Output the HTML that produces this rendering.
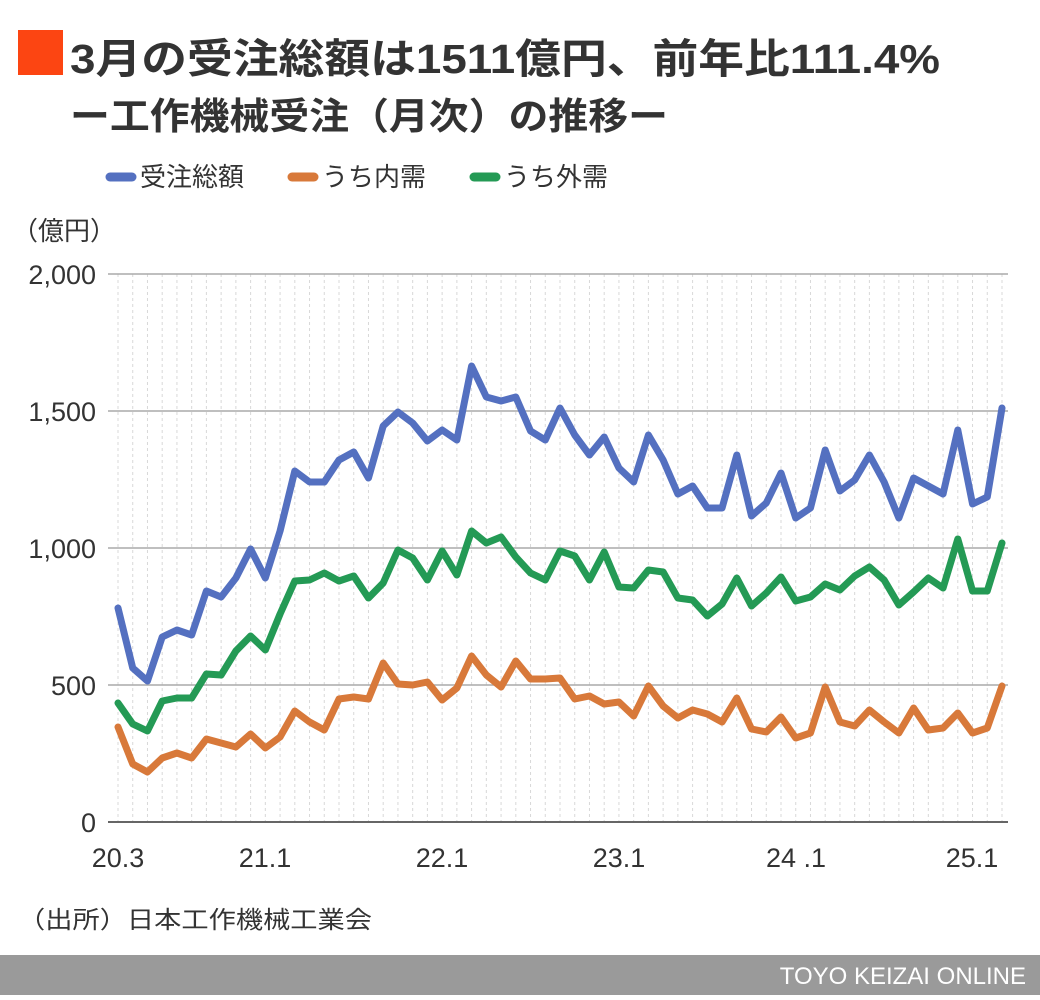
<!DOCTYPE html>
<html><head><meta charset="utf-8"><style>
body{margin:0;background:#fff;width:1040px;height:995px;overflow:hidden}
text{font-family:"Liberation Sans","Noto Sans CJK JP",sans-serif}
</style></head><body>
<svg width="1040" height="995" viewBox="0 0 1040 995">
<rect x="18" y="30" width="45" height="45" fill="#fc4512"/>
<text x="70" y="73" font-size="41" font-weight="bold" fill="#333" textLength="870" lengthAdjust="spacingAndGlyphs">3月の受注総額は1511億円、前年比111.4%</text>
<text x="70" y="129" font-size="37" font-weight="bold" fill="#333" textLength="598" lengthAdjust="spacingAndGlyphs">ー工作機械受注（月次）の推移ー</text>
<g font-size="26" fill="#333">
<line x1="110" y1="177" x2="132" y2="177" stroke="#5470c0" stroke-width="9" stroke-linecap="round"/>
<text x="140" y="186">受注総額</text>
<line x1="292" y1="177" x2="314" y2="177" stroke="#d8793a" stroke-width="9" stroke-linecap="round"/>
<text x="322" y="186">うち内需</text>
<line x1="474" y1="177" x2="496" y2="177" stroke="#249a55" stroke-width="9" stroke-linecap="round"/>
<text x="504" y="186">うち外需</text>
<text x="12" y="240">（億円）</text>
</g>
<g transform="translate(118,0) scale(14.7333,1)" stroke="#d8d8d8" stroke-dasharray="3,3">
<path vector-effect="non-scaling-stroke" stroke-width="1" d="M0 274V822M1 274V822M2 274V822M3 274V822M4 274V822M5 274V822M6 274V822M7 274V822M8 274V822M9 274V822M10 274V822M11 274V822M12 274V822M13 274V822M14 274V822M15 274V822M16 274V822M17 274V822M18 274V822M19 274V822M20 274V822M21 274V822M22 274V822M23 274V822M24 274V822M25 274V822M26 274V822M27 274V822M28 274V822M29 274V822M30 274V822M31 274V822M32 274V822M33 274V822M34 274V822M35 274V822M36 274V822M37 274V822M38 274V822M39 274V822M40 274V822M41 274V822M42 274V822M43 274V822M44 274V822M45 274V822M46 274V822M47 274V822M48 274V822M49 274V822M50 274V822M51 274V822M52 274V822M53 274V822M54 274V822M55 274V822M56 274V822M57 274V822M58 274V822M59 274V822M60 274V822"/>
</g>
<g stroke="#aaa" stroke-width="1.5">
<line x1="108" y1="274" x2="1008" y2="274"/><line x1="108" y1="411" x2="1008" y2="411"/>
<line x1="108" y1="548" x2="1008" y2="548"/><line x1="108" y1="685" x2="1008" y2="685"/>
</g>
<line x1="108" y1="822" x2="1008" y2="822" stroke="#666" stroke-width="2"/>
<g font-size="27" fill="#333" text-anchor="end">
<text x="96" y="284">2,000</text><text x="96" y="421">1,500</text><text x="96" y="558">1,000</text>
<text x="96" y="695">500</text><text x="96" y="832">0</text>
</g>
<g font-size="27" fill="#333" text-anchor="middle">
<text x="118" y="867">20.3</text><text x="265" y="867">21.1</text><text x="442" y="867">22.1</text>
<text x="619" y="867">23.1</text><text x="796" y="867">24 .1</text><text x="972" y="867">25.1</text>
</g>
<g transform="translate(118,0) scale(14.7333,1)" fill="none" stroke-width="7" stroke-linejoin="round" stroke-linecap="round">
<polyline vector-effect="non-scaling-stroke" stroke="#d8793a" points="0,727 1,764 2,772 3,758 4,753 5,758 6,739 7,743 8,747 9,734 10,748 11,737 12,711 13,722 14,730 15,699 16,697 17,699 18,663 19,684 20,685 21,682 22,700 23,688 24,656 25,675 26,687 27,661 28,679 29,679 30,678 31,699 32,696 33,704 34,702 35,716 36,686 37,706 38,718 39,710 40,714 41,722 42,698 43,729 44,732 45,717 46,738 47,733 48,687 49,722 50,726 51,710 52,722 53,733 54,708 55,730 56,728 57,713 58,733 59,728 60,686"/>
<polyline vector-effect="non-scaling-stroke" stroke="#249a55" points="0,703 1,724 2,731 3,701 4,698 5,698 6,674 7,675 8,651 9,636 10,650 11,614 12,581 13,580 14,573 15,581 16,576 17,598 18,583 19,550 20,558 21,580 22,551 23,575 24,531 25,543 26,537 27,557 28,573 29,580 30,551 31,556 32,580 33,552 34,587 35,588 36,570 37,572 38,598 39,600 40,616 41,604 42,578 43,606 44,593 45,577 46,601 47,597 48,584 49,590 50,576 51,567 52,580 53,605 54,592 55,578 56,588 57,539 58,591 59,591 60,543"/>
<polyline vector-effect="non-scaling-stroke" stroke="#5470c0" points="0,608 1,668 2,681 3,637 4,630 5,635 6,591 7,597 8,578 9,549 10,578 11,531 12,471 13,482 14,482 15,460 16,452 17,478 18,426 19,412 20,423 21,441 22,430 23,440 24,366 25,397 26,401 27,397 28,431 29,440 30,408 31,435 32,455 33,437 34,468 35,482 36,435 37,460 38,494 39,486 40,508 41,508 42,455 43,516 44,503 45,473 46,518 47,508 48,450 49,491 50,480 51,455 52,482 53,518 54,478 55,486 56,494 57,430 58,504 59,497 60,408"/>
</g>
<text x="18" y="928" font-size="24" fill="#333" textLength="354" lengthAdjust="spacingAndGlyphs">（出所）日本工作機械工業会</text>
<rect x="0" y="955" width="1040" height="40" fill="#9a9a9a"/>
<text x="1026" y="984" font-size="24" fill="#fff" text-anchor="end">TOYO KEIZAI ONLINE</text>
</svg>
</body></html>
